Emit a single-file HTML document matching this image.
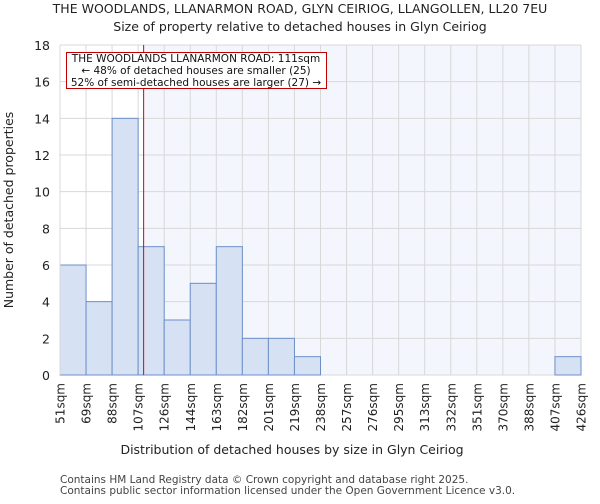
<!DOCTYPE html>
<html><head><meta charset="utf-8"><style>
body{margin:0;background:#fff;font-family:"DejaVu Sans","Liberation Sans",sans-serif;}
</style></head><body>
<svg width="600" height="500" xmlns="http://www.w3.org/2000/svg" font-family="DejaVu Sans, Liberation Sans, sans-serif">
<text x="300" y="13" text-anchor="middle" font-size="12.5" fill="#222">THE WOODLANDS, LLANARMON ROAD, GLYN CEIRIOG, LLANGOLLEN, LL20 7EU</text>
<text x="300" y="31" text-anchor="middle" font-size="12.5" fill="#222">Size of property relative to detached houses in Glyn Ceiriog</text>
<g id="plot"></g>
<text x="292" y="454" text-anchor="middle" font-size="12.5" fill="#222">Distribution of detached houses by size in Glyn Ceiriog</text>
<text transform="translate(13,210) rotate(-90)" text-anchor="middle" font-size="12.5" fill="#222">Number of detached properties</text>
<text x="60" y="483" font-size="10.5" fill="#444">Contains HM Land Registry data © Crown copyright and database right 2025.</text>
<text x="60" y="494" font-size="10.5" fill="#444">Contains public sector information licensed under the Open Government Licence v3.0.</text>
</svg>
<script>
const binLabels=["51sqm","69sqm","88sqm","107sqm","126sqm","144sqm","163sqm","182sqm","201sqm","219sqm","238sqm","257sqm","276sqm","295sqm","313sqm","332sqm","351sqm","370sqm","388sqm","407sqm","426sqm"];
const binEdges=[51,69,88,107,126,144,163,182,201,219,238,257,276,295,313,332,351,370,388,407,426];
const counts=[6,4,14,7,3,5,7,2,2,1,0,0,0,0,0,0,0,0,0,1];
const yTicks=[0,2,4,6,8,10,12,14,16,18];
const propertySize=111;
const x0=60,x1=581,y0=375,y1=45,yMax=18;
const NS="http://www.w3.org/2000/svg";
const g=document.getElementById('plot');
const nb=counts.length;
const bw=(x1-x0)/nb;
function xi(i){return x0+i*bw;}
function xv(v){for(let i=0;i<nb;i++){if(v<=binEdges[i+1]){return xi(i)+(v-binEdges[i])/(binEdges[i+1]-binEdges[i])*bw;}}return x1;}
function y(v){return y0-(v/yMax)*(y0-y1);}
function mk(t,a){const e=document.createElementNS(NS,t);for(const k in a)e.setAttribute(k,a[k]);g.appendChild(e);return e;}
const px=xv(propertySize);
let r=mk('rect',{x:px,y:y1,width:x1-px,height:y0-y1,fill:'#f3f6fd'});


yTicks.forEach(t=>{
 let l=mk('line',{x1:x0,x2:x1,y1:y(t),y2:y(t),stroke:'#d8d8d8','stroke-width':1});
 
 
 let tx=mk('text',{x:x0-10,y:y(t)+5,'text-anchor':'end','font-size':12.5,fill:'#222'});
 tx.textContent=t;
 
 
});
binLabels.forEach((lab,i)=>{
 let l=mk('line',{x1:xi(i),x2:xi(i),y1:y1,y2:y0,stroke:'#d8d8d8','stroke-width':1});
 
 
 let tx=mk('text',{'text-anchor':'end','font-size':12,fill:'#222',transform:`translate(${xi(i)+4.5},${y0+8}) rotate(-90)`});
 tx.textContent=lab;
 
 
});
counts.forEach((c,i)=>{
 if(c<=0)return;
 let b=mk('rect',{x:xi(i),y:y(c),width:bw,height:y0-y(c),fill:'#d6e1f3',stroke:'#6d8fc8','stroke-width':1});
 
 
});
let ax=mk('line',{x1:x0,x2:x0,y1:y1,y2:y0,stroke:'#d8d8d8'});


let pl=mk('line',{x1:px,x2:px,y1:y1,y2:y0,stroke:'#e00000','stroke-width':1});


let box=mk('rect',{x:66.5,y:52.5,width:260,height:36,fill:'#fff',stroke:'#c00000','stroke-width':1});


const ann=["THE WOODLANDS LLANARMON ROAD: 111sqm","← 48% of detached houses are smaller (25)","52% of semi-detached houses are larger (27) →"];
ann.forEach((s,i)=>{
 let t=mk('text',{x:196,y:62+i*12,'text-anchor':'middle','font-size':10.5,fill:'#111'});
 t.textContent=s;
 
 
});
</script>
</body></html>
